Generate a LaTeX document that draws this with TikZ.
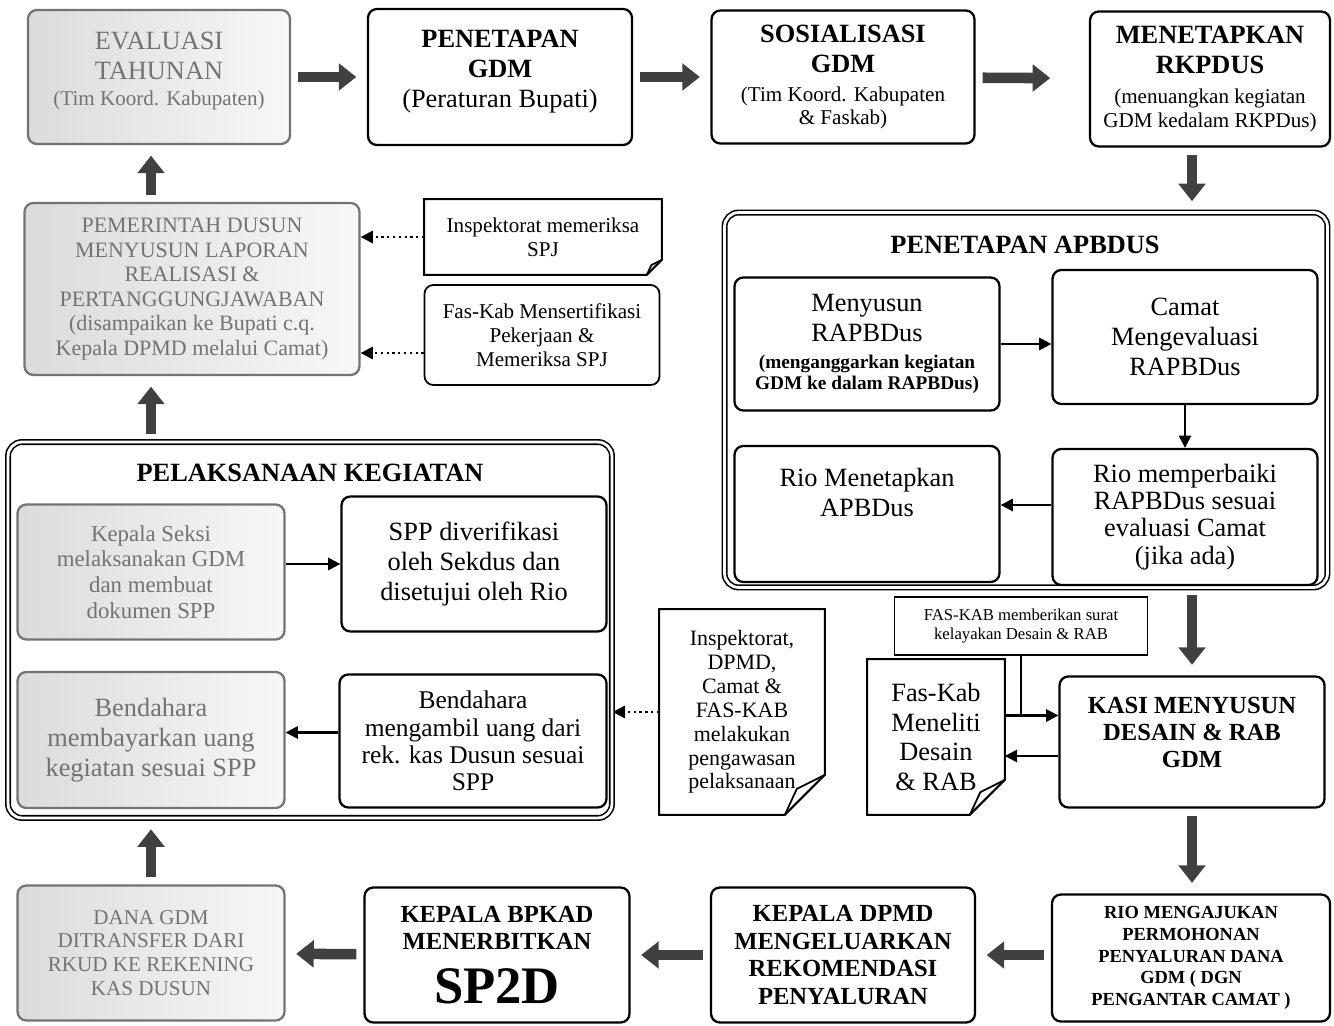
\documentclass[tikz,border=0pt]{standalone}
\usepackage{fontspec}
\setmainfont{Liberation Serif}
\usetikzlibrary{arrows.meta}

\newcommand{\fmain}{\fontsize{15}{17}\selectfont}
\newcommand{\fsub}{\fontsize{12}{13.5}\selectfont}
\newcommand{\fnote}{\fontsize{11}{12}\selectfont}
\newcommand{\ftiny}{\fontsize{9.5}{10.5}\selectfont}
\newcommand{\docfold}[2]{%
  \draw[line width=1.2pt] (#1.north west) -- (#1.north east) -- ([yshift=#2cm]#1.south east)
    -- ([xshift=-#2cm]#1.south east) -- (#1.south west) -- cycle;
  \draw[line width=1pt] ([xshift=-#2cm]#1.south east) -- ([xshift=-0.7*#2cm,yshift=0.65*#2cm]#1.south east)
    -- ([yshift=#2cm]#1.south east);
}

\begin{document}
\begin{tikzpicture}[x=0.02cm, y=-0.02cm,
  box/.style={draw, line width=1.3pt, rounded corners=5pt, align=center, inner sep=0pt, font=\fmain},
  faded/.style={box, draw=black!55, left color=black!14, right color=black!3, text=black!55},
  groupbox/.style={draw, double, double distance=1.6pt, line width=0.9pt, rounded corners=8pt, inner sep=0pt},
  docnode/.style={align=center, inner sep=0pt, font=\fmain},
  big/.style={line width=6pt, draw=black!75, -{Triangle[length=10pt,width=15pt]}, shorten <=4pt, shorten >=6pt},
  flow/.style={line width=1.3pt, -{Triangle[length=7pt,width=7pt]}},
  dots/.style={flow, dotted}]
\useasboundingbox (0,0) rectangle (1334,1026);

\node[faded, minimum width=5.24cm, minimum height=2.68cm, text depth=9pt] (eval) at (159,77) {EVALUASI\\TAHUNAN\\[-2pt]\fsub(Tim Koord. Kabupaten)};
\node[box, minimum width=5.28cm, minimum height=2.72cm, text depth=9pt] (pen) at (500,77) {\textbf{PENETAPAN}\\\textbf{GDM}\\(Peraturan Bupati)};
\node[box, minimum width=5.26cm, minimum height=2.66cm] (sos) at (843,77) {\textbf{SOSIALISASI}\\\textbf{GDM}\\\fsub(Tim Koord. Kabupaten\\[-4pt]\fsub\& Faskab)};
\node[box, minimum width=4.8cm, minimum height=2.7cm] (rkp) at (1210,79) {\textbf{MENETAPKAN}\\\textbf{RKPDUS}\\\fsub(menuangkan kegiatan\\[-3.5pt]\fsub GDM kedalam RKPDus)};

\node[faded, minimum width=6.7cm, minimum height=3.44cm, font=\fontsize{12.5}{14}\selectfont] (pem) at (192,289) {PEMERINTAH DUSUN\\MENYUSUN LAPORAN\\REALISASI \&\\PERTANGGUNGJAWABAN\\(disampaikan ke Bupati c.q.\\Kepala DPMD melalui Camat)};
\node[docnode, minimum width=4.74cm, minimum height=1.5cm, font=\fsub] (ipk1) at (543,237) {Inspektorat memeriksa\\SPJ};
\docfold{ipk1}{0.3}
\node[box, line width=1pt, minimum width=4.7cm, minimum height=2cm, font=\fsub] (fkab1) at (542,335) {Fas-Kab Mensertifikasi\\Pekerjaan \&\\Memeriksa SPJ};

\node[groupbox, minimum width=12.06cm, minimum height=7.5cm] (apbdus) at (1026,400) {};
\node[font=\fmain\bfseries] (apbdust) at (1025,245) {PENETAPAN APBDUS};
\node[box, minimum width=5.3cm, minimum height=2.66cm] (menyusun) at (867,344) {Menyusun\\RAPBDus\\[-2pt]\fnote\bfseries(menganggarkan kegiatan\\[-5pt]\fnote\bfseries GDM ke dalam RAPBDus)};
\node[box, minimum width=5.3cm, minimum height=2.68cm] (camat) at (1185,337) {Camat\\Mengevaluasi\\RAPBDus};
\node[box, minimum width=5.3cm, minimum height=2.72cm, text depth=25pt] (riotetap) at (867,514) {Rio Menetapkan\\APBDus};
\node[box, minimum width=5.3cm, minimum height=2.72cm, font=\fontsize{15}{15.5}\selectfont] (riobaik) at (1185,517) {Rio memperbaiki\\RAPBDus sesuai\\evaluasi Camat\\(jika ada)};

\node[draw, line width=1pt, align=center, minimum width=5.06cm, minimum height=1.16cm, font=\ftiny] (surat) at (1021,626) {FAS-KAB memberikan surat\\kelayakan Desain \& RAB};
\node[docnode, minimum width=2.74cm, minimum height=3.1cm] (meneliti) at (936,737) {Fas-Kab\\Meneliti\\Desain\\\& RAB};
\docfold{meneliti}{0.7}
\node[box, minimum width=5.3cm, minimum height=2.62cm, text depth=11pt, font=\fontsize{14}{15.6}\selectfont\bfseries] (kasi) at (1192,742) {KASI MENYUSUN\\DESAIN \& RAB\\GDM};

\node[groupbox, minimum width=12.08cm, minimum height=7.52cm] (pelaks) at (310,630) {};
\node[font=\fmain\bfseries] (pelakst) at (310,473) {PELAKSANAAN KEGIATAN};
\node[faded, minimum width=5.34cm, minimum height=2.7cm, font=\fontsize{13}{14.7}\selectfont] (kseksi) at (151,572) {Kepala Seksi\\melaksanakan GDM\\dan membuat\\dokumen SPP};
\node[box, minimum width=5.3cm, minimum height=2.7cm] (spp) at (474,564) {SPP diverifikasi\\oleh Sekdus dan\\disetujui oleh Rio};
\node[faded, minimum width=5.34cm, minimum height=2.72cm] (bbayar) at (151,740) {Bendahara\\membayarkan uang\\kegiatan sesuai SPP};
\node[box, minimum width=5.34cm, minimum height=2.66cm, font=\fontsize{14.5}{15.5}\selectfont] (bambil) at (473,741) {Bendahara\\mengambil uang dari\\rek. kas Dusun sesuai\\SPP};
\node[docnode, minimum width=3.3cm, minimum height=4.1cm, font=\fontsize{12.5}{13.6}\selectfont] (ipk2) at (742,712) {Inspektorat,\\DPMD,\\Camat \&\\FAS-KAB\\melakukan\\pengawasan\\pelaksanaan};
\docfold{ipk2}{0.8}

\node[box, minimum width=5.56cm, minimum height=2.54cm, font=\fontsize{10.5}{12.3}\selectfont\bfseries] (rio) at (1191,958) {RIO MENGAJUKAN\\PERMOHONAN\\PENYALURAN DANA\\GDM ( DGN\\PENGANTAR CAMAT )};
\node[box, minimum width=5.28cm, minimum height=2.7cm, font=\fontsize{14}{15.6}\selectfont\bfseries] (dpmd) at (843,955) {KEPALA DPMD\\MENGELUARKAN\\REKOMENDASI\\PENYALURAN};
\node[box, minimum width=5.3cm, minimum height=2.7cm, font=\fontsize{14}{15.6}\selectfont\bfseries] (bpkad) at (497,955) {KEPALA BPKAD\\MENERBITKAN\\[10pt]\fontsize{30}{32}\selectfont SP2D};
\node[faded, minimum width=5.34cm, minimum height=2.7cm, font=\fontsize{12}{13.6}\selectfont] (dana) at (151,953) {DANA GDM\\DITRANSFER DARI\\RKUD KE REKENING\\KAS DUSUN};

\draw[big] (eval) -- (pen);
\draw[big] (pen) -- (sos);
\draw[big, shorten >=22pt] (sos) -- (rkp);
\draw[big] (rkp.south -| kasi) -- (apbdus.north -| kasi);
\draw[big] (apbdus.south -| kasi) -- (kasi.north);
\draw[big] (kasi.south) -- (kasi.south |- rio.north);
\draw[big] (rio.west |- dpmd) -- (dpmd.east);
\draw[big] (dpmd) -- (bpkad);
\draw[big] (bpkad) -- (dana);
\draw[big] (dana.north) -- (dana.north |- pelaks.south);
\draw[big] (pelaks.north -| dana) -- (pem.south -| dana);
\draw[big] (pem.north -| dana) -- (eval.south -| dana);

\draw[flow] (menyusun.east) -- (menyusun.east -| camat.west);
\draw[flow] (camat) -- (camat |- riobaik.north);
\draw[flow] ([yshift=0.18cm]riobaik.west |- riotetap) -- ([yshift=0.18cm]riotetap.east);
\draw[flow] (kseksi.east |- spp) -- (spp.west);
\coordinate (b1) at ([yshift=0.17cm]bambil.west);
\draw[flow] (b1) -- (b1 -| bbayar.east);

\coordinate (fk) at ([yshift=0.53cm]kasi.west);
\draw[flow] (fk -| meneliti.east) -- (fk);
\draw[line width=1.3pt] (surat.south) -- (surat.south |- fk);
\coordinate (kb) at ([yshift=-0.28cm]kasi.west);
\draw[flow] (kb) -- (kb -| meneliti.east);

\draw[dots] (ipk1.west) -- (ipk1.west -| pem.east);
\coordinate (f1) at ([yshift=-0.36cm]fkab1.west);
\draw[dots] (f1) -- (f1 -| pem.east);
\draw[dots] (ipk2.west) -- (ipk2.west -| pelaks.east);
\end{tikzpicture}
\end{document}
